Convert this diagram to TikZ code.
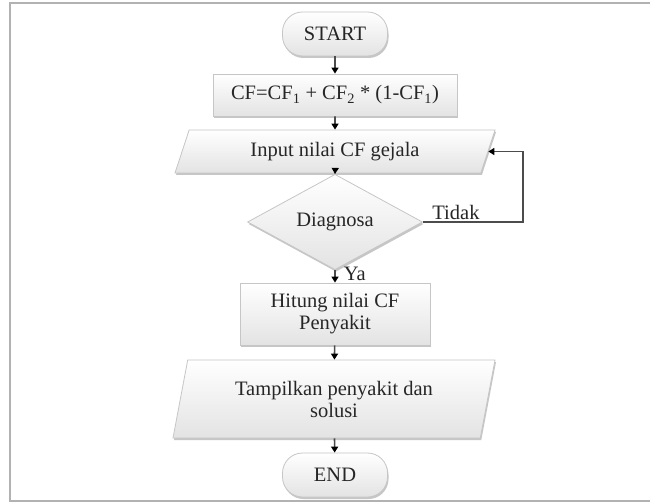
\documentclass[tikz,border=0pt]{standalone}
\usepackage{fontspec}
\setmainfont{Liberation Serif}
\usetikzlibrary{shapes.geometric,shadows,arrows.meta}
\begin{document}
\begin{tikzpicture}[x=1pt,y=-1pt,
  font=\fontsize{20.5}{22}\selectfont, text=black!85,
  box/.style={draw=gray!45, line width=0.8pt, top color=white, bottom color=gray!22,
    drop shadow={shadow xshift=1pt,shadow yshift=-2pt,fill=gray!45,opacity=1},
    align=center, inner sep=2pt},
  term/.style={box, rectangle, rounded corners=20pt, minimum width=105pt, minimum height=44pt},
  proc/.style={box, rectangle},
  io/.style={box, trapezium, trapezium stretches body},
  dec/.style={box, diamond, inner sep=0pt},
  conn/.style={draw=gray!60!black, line width=1.6pt, -{Triangle[length=6pt,width=7pt,black]}},
  lab/.style={inner sep=1pt, text=black!85}
]
\useasboundingbox (0,0) rectangle (650,502);
\fill[white] (0,0) rectangle (650,502);
\draw[gray!60, line width=2.5pt] (650,3) -- (10,3) -- (10,501) -- (650,501);

\node[term] (start) at (335,34) {START};
\node[proc, minimum width=244pt, minimum height=42pt] (cf) at (335,95)
  {CF=CF\textsubscript{1} + CF\textsubscript{2} * (1-CF\textsubscript{1})};
\node[io, trapezium left angle=58, trapezium right angle=122, minimum width=320pt, minimum height=43pt] (in) at (335,151.5) {Input nilai CF gejala};
\node[dec, minimum width=175pt, minimum height=67pt] (dia) at (335,222) {Diagnosa};
\node[proc, minimum width=190pt, minimum height=62pt] (hit) at (335,314) {Hitung nilai CF\\Penyakit};
\node[io, trapezium left angle=70, trapezium right angle=110, minimum width=322pt, minimum height=78pt] (tam) at (334,399) {Tampilkan penyakit dan\\solusi};
\node[term] (end) at (335,475) {END};
\coordinate (lp) at (523,222);

\draw[conn] (start) -- (cf);
\draw[conn] (cf) -- (in);
\draw[conn] (in) -- (dia);
\draw[conn] (dia) -- node[lab, right, pos=0.3, xshift=7pt] {Ya} (hit);
\draw[conn] (hit) -- (tam);
\draw[conn] (tam) -- (end);
\draw[conn] (dia.east) -- node[lab, above, pos=0.33] {Tidak} (lp) |- (in.east);
\end{tikzpicture}
\end{document}
